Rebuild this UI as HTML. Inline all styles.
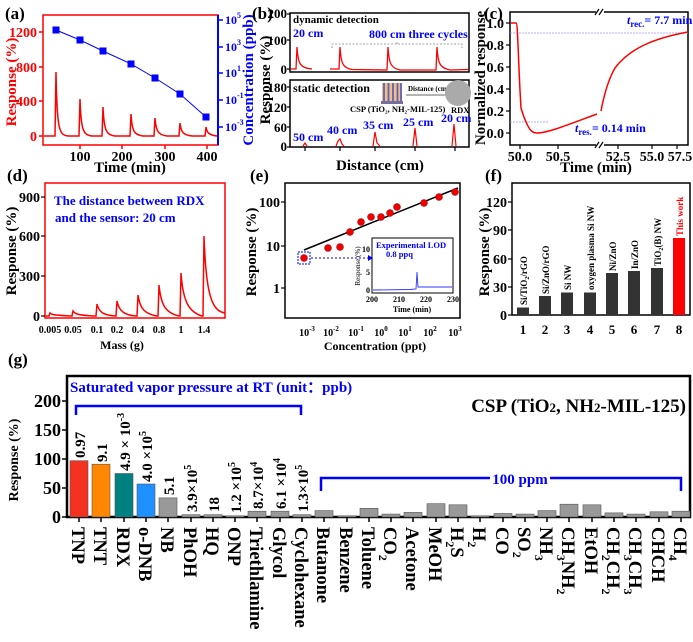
<!DOCTYPE html>
<html><head><meta charset="utf-8"><style>
body{margin:0;background:#fff}
svg{display:block;font-family:"Liberation Serif",serif;font-weight:bold}
</style></head><body>
<svg width="693" height="642" viewBox="0 0 693 642" xmlns="http://www.w3.org/2000/svg">
<!-- ===== (a) ===== -->
<text x="5" y="19" font-size="17">(a)</text>
<rect x="43" y="15" width="175" height="130" fill="none" stroke="#f00" stroke-width="1.5"/>
<line x1="218" y1="15" x2="218" y2="145" stroke="#00f" stroke-width="2"/>
<g stroke="#f00" stroke-width="1.5">
<line x1="39" y1="136" x2="43" y2="136"/><line x1="39" y1="101" x2="43" y2="101"/><line x1="39" y1="67" x2="43" y2="67"/><line x1="39" y1="32" x2="43" y2="32"/>
<line x1="80" y1="145" x2="80" y2="149"/><line x1="122" y1="145" x2="122" y2="149"/><line x1="165" y1="145" x2="165" y2="149"/><line x1="207" y1="145" x2="207" y2="149"/>
</g>
<g fill="#f00" font-size="14" text-anchor="end"><text x="37" y="141">0</text><text x="37" y="106">400</text><text x="37" y="72">800</text><text x="37" y="37">1200</text></g>
<g font-size="14" text-anchor="middle"><text x="80" y="161">100</text><text x="122" y="161">200</text><text x="165" y="161">300</text><text x="207" y="161">400</text></g>
<text x="130" y="172" font-size="15" text-anchor="middle">Time (min)</text>
<text transform="translate(16,82) rotate(-90)" font-size="15" fill="#f00" text-anchor="middle">Response (%)</text>
<g stroke="#00f" stroke-width="1.5"><line x1="218" y1="20" x2="223" y2="20"/><line x1="218" y1="47" x2="223" y2="47"/><line x1="218" y1="73" x2="223" y2="73"/><line x1="218" y1="100" x2="223" y2="100"/><line x1="218" y1="127" x2="223" y2="127"/></g>
<g fill="#00f" font-size="12"><text x="225" y="24">10<tspan font-size="8" dy="-6">5</tspan></text><text x="225" y="51">10<tspan font-size="8" dy="-6">3</tspan></text><text x="225" y="77">10<tspan font-size="8" dy="-6">1</tspan></text><text x="225" y="104">10<tspan font-size="8" dy="-6">-1</tspan></text><text x="225" y="131">10<tspan font-size="8" dy="-6">-3</tspan></text></g>
<text transform="translate(253,80) rotate(-90)" font-size="15" fill="#00f" text-anchor="middle">Concentration (ppb)</text>
<path d="M44 136 L55 136 L56 72 C57 130 59 135 68 136 L79 136 L80 99 C81 130 83 135 92 136 L102 136 L103 107 C104 130 106 135 115 136 L130 136 L131 114 C132 131 134 135 143 136 L154 136 L155 118 C156 131 158 135 167 136 L179 136 L180 123 C181 132 183 135 192 136 L205 136 L206 127 C207 133 209 135 217 136" fill="none" stroke="#f00" stroke-width="1.5"/>
<polyline points="56,30 80,40 103,51 131,64 155,78 180,94 206,117" fill="none" stroke="#00f" stroke-width="1"/>
<g fill="#00f"><rect x="52.5" y="26.5" width="7" height="7"/><rect x="76.5" y="36.5" width="7" height="7"/><rect x="99.5" y="47.5" width="7" height="7"/><rect x="127.5" y="60.5" width="7" height="7"/><rect x="151.5" y="74.5" width="7" height="7"/><rect x="176.5" y="90.5" width="7" height="7"/><rect x="202.5" y="113.5" width="7" height="7"/></g>

<!-- ===== (b) ===== -->
<text x="252" y="19" font-size="17">(b)</text>
<rect x="290" y="13" width="179" height="59" fill="none" stroke="#000" stroke-width="1.5"/>
<rect x="290" y="80" width="179" height="67" fill="none" stroke="#000" stroke-width="1.5"/>
<g font-size="13" text-anchor="end"><text x="287" y="18">200</text><text x="287" y="45">100</text><text x="287" y="74">0</text><text x="287" y="92">180</text><text x="287" y="112">120</text><text x="287" y="132">60</text><text x="287" y="151">0</text></g>
<g stroke="#000" stroke-width="1.2"><line x1="287" y1="14" x2="290" y2="14"/><line x1="287" y1="40" x2="290" y2="40"/><line x1="287" y1="69" x2="290" y2="69"/><line x1="287" y1="87" x2="290" y2="87"/><line x1="287" y1="107" x2="290" y2="107"/><line x1="287" y1="127" x2="290" y2="127"/><line x1="287" y1="147" x2="290" y2="147"/>
<line x1="305" y1="147" x2="305" y2="151"/><line x1="340" y1="147" x2="340" y2="151"/><line x1="375" y1="147" x2="375" y2="151"/><line x1="415" y1="147" x2="415" y2="151"/><line x1="455" y1="147" x2="455" y2="151"/></g>
<text transform="translate(270,80) rotate(-90)" font-size="15" text-anchor="middle">Response (%)</text>
<text x="380" y="170" font-size="15" text-anchor="middle">Distance (cm)</text>
<text x="293" y="23" font-size="11">dynamic detection</text>
<text x="293" y="37" font-size="12" fill="#00f">20 cm</text>
<text x="369" y="38" font-size="12" fill="#00f">800 cm three cycles</text>
<path d="M332 48 L332 44 L462 44 L462 48 M397 44 L397 41" fill="none" stroke="#888" stroke-width="0.8" stroke-dasharray="2,1.5"/>
<path d="M291 69 L296 69 L297 47 C298 64 300 68 312 69 M330 69 L339 69 L340 47 C341 64 343 68 352 69.5 L387 70 L388 47 C389 64 391 68 400 70 L436 70 L437 47 C438 64 440 68 450 70 L468 69.5" fill="none" stroke="#f00" stroke-width="1.3"/>
<text x="293" y="92" font-size="12">static detection</text>
<rect x="382" y="83" width="20" height="18" fill="#f0c080"/>
<g stroke="#6060c0" stroke-width="1.8"><line x1="384" y1="83" x2="384" y2="101"/><line x1="388.5" y1="83" x2="388.5" y2="101"/><line x1="393" y1="83" x2="393" y2="101"/><line x1="397.5" y1="83" x2="397.5" y2="101"/><line x1="401" y1="83" x2="401" y2="101"/></g>
<rect x="381" y="101" width="22" height="3" fill="#7070a0"/>
<text x="408" y="91" font-size="7">Distance (cm)</text>
<line x1="406" y1="95" x2="446" y2="95" stroke="#666" stroke-width="1"/>
<circle cx="458" cy="93" r="13" fill="#aaa"/>
<text x="350" y="112" font-size="8.5">CSP (TiO₂, NH₂-MIL-125)</text>
<text x="451" y="113" font-size="8.5">RDX</text>
<g fill="#00f" font-size="12"><text x="293" y="141">50 cm</text><text x="327" y="134">40 cm</text><text x="363" y="129">35 cm</text><text x="403" y="126">25 cm</text><text x="441" y="122">20 cm</text></g>
<path d="M303 146 L305 143 L307 146 M336 146 L338 141 L340 139 L342 144 L344 146 M373 146 L375 132 L377 143 L380 146 M413 146 L415 128 L417 146 M452 146 L454 124 L456 146" fill="none" stroke="#f00" stroke-width="1.2"/>

<!-- ===== (c) ===== -->
<text x="484" y="19" font-size="17">(c)</text>
<rect x="510" y="12" width="178" height="133" fill="none" stroke="#000" stroke-width="1.5"/>
<rect x="596" y="8" width="8" height="8" fill="#fff"/><rect x="596" y="141" width="8" height="8" fill="#fff"/>
<g stroke="#000" stroke-width="1.2"><line x1="595" y1="15" x2="599" y2="9"/><line x1="599" y1="15" x2="603" y2="9"/><line x1="595" y1="148" x2="599" y2="142"/><line x1="599" y1="148" x2="603" y2="142"/>
<line x1="506" y1="23" x2="510" y2="23"/><line x1="506" y1="45" x2="510" y2="45"/><line x1="506" y1="67" x2="510" y2="67"/><line x1="506" y1="89" x2="510" y2="89"/><line x1="506" y1="111" x2="510" y2="111"/><line x1="506" y1="133" x2="510" y2="133"/>
<line x1="520" y1="145" x2="520" y2="149"/><line x1="558" y1="145" x2="558" y2="149"/><line x1="618" y1="145" x2="618" y2="149"/><line x1="652" y1="145" x2="652" y2="149"/><line x1="677" y1="145" x2="677" y2="149"/></g>
<g font-size="14" text-anchor="end"><text x="504" y="28">1.0</text><text x="504" y="50">0.8</text><text x="504" y="72">0.6</text><text x="504" y="94">0.4</text><text x="504" y="116">0.2</text><text x="504" y="138">0.0</text></g>
<g font-size="14" text-anchor="middle"><text x="520" y="161">50.0</text><text x="558" y="161">50.5</text><text x="618" y="161">52.5</text><text x="652" y="161">55.0</text><text x="680" y="161">57.5</text></g>
<text x="596" y="172" font-size="15" text-anchor="middle">Time (min)</text>
<text transform="translate(485,78) rotate(-90)" font-size="15" text-anchor="middle">Normalized response</text>
<line x1="510" y1="33" x2="688" y2="33" stroke="#99f" stroke-width="0.8" stroke-dasharray="2,1"/>
<line x1="510" y1="122" x2="548" y2="122" stroke="#99f" stroke-width="0.8" stroke-dasharray="2,1"/>
<path d="M511 23 L516 23 C518 23 518 60 521 108 C523 115 524 118 527 124 C530 131 533 133 537 133 C548 133 570 124 597 114" fill="none" stroke="#f00" stroke-width="1.5"/>
<path d="M601 111 C604 95 608 80 615 68 C630 48 655 38 688 32" fill="none" stroke="#f00" stroke-width="1.5"/>
<text x="627" y="24" font-size="12" fill="#00f"><tspan font-style="italic">t</tspan><tspan font-size="9" dy="3">rec.</tspan><tspan dy="-3">= 7.7 min</tspan></text>
<text x="575" y="132" font-size="12" fill="#00f"><tspan font-style="italic">t</tspan><tspan font-size="9" dy="3">res.</tspan><tspan dy="-3">= 0.14 min</tspan></text>

<!-- ===== (d) ===== -->
<text x="7" y="181" font-size="17">(d)</text>
<rect x="45" y="183" width="180" height="135" fill="none" stroke="#f00" stroke-width="1.5"/>
<g stroke="#000" stroke-width="1.2"><line x1="41" y1="197" x2="45" y2="197"/><line x1="41" y1="236" x2="45" y2="236"/><line x1="41" y1="276" x2="45" y2="276"/><line x1="41" y1="316" x2="45" y2="316"/></g>
<g font-size="14" text-anchor="end"><text x="40" y="202">900</text><text x="40" y="241">600</text><text x="40" y="281">300</text><text x="40" y="321">0</text></g>
<text transform="translate(16,251) rotate(-90)" font-size="15" text-anchor="middle">Response (%)</text>
<g font-size="10" text-anchor="middle"><text x="50" y="333">0.005</text><text x="73" y="333">0.05</text><text x="97" y="333">0.1</text><text x="117" y="333">0.2</text><text x="138" y="333">0.4</text><text x="159" y="333">0.8</text><text x="181" y="333">1</text><text x="204" y="333">1.4</text></g>
<text x="122" y="349" font-size="12" text-anchor="middle">Mass (g)</text>
<text x="54" y="205" font-size="13" fill="#00f">The distance between RDX</text>
<text x="55" y="222" font-size="13" fill="#00f">and the sensor: 20 cm</text>
<path d="M46 316 L49 316 L50 313 C52 315 55 315 70 316 L72 316 L73 311 C75 314 78 315 93 316 L96 316 L97 304 C99 312 103 315 115 316 L116 316 L117 301 C119 311 124 315 136 316 L137 316 L138 295 C140 309 145 314 157 316 L158 316 L159 285 C161 306 166 313 179 316 L180 316 L181 273 C183 302 189 312 202 316 L203 316 L204 236 C206 296 212 311 225 313" fill="none" stroke="#f00" stroke-width="1.5"/>

<!-- ===== (e) ===== -->
<text x="250" y="181" font-size="17">(e)</text>
<rect x="285" y="183" width="175" height="135" fill="none" stroke="#000" stroke-width="1.5"/>
<g stroke="#000" stroke-width="1.2"><line x1="281" y1="202" x2="285" y2="202"/><line x1="281" y1="246" x2="285" y2="246"/><line x1="281" y1="288" x2="285" y2="288"/></g>
<g font-size="14" text-anchor="end"><text x="280" y="207">100</text><text x="280" y="251">10</text><text x="280" y="293">1</text></g>
<text transform="translate(256,252) rotate(-90)" font-size="15" text-anchor="middle">Response (%)</text>
<g font-size="10" text-anchor="middle"><text x="307" y="336">10<tspan font-size="7" dy="-5">-3</tspan></text><text x="331" y="336">10<tspan font-size="7" dy="-5">-2</tspan></text><text x="356" y="336">10<tspan font-size="7" dy="-5">-1</tspan></text><text x="381" y="336">10<tspan font-size="7" dy="-5">0</tspan></text><text x="405" y="336">10<tspan font-size="7" dy="-5">1</tspan></text><text x="430" y="336">10<tspan font-size="7" dy="-5">2</tspan></text><text x="455" y="336">10<tspan font-size="7" dy="-5">3</tspan></text></g>
<text x="375" y="350" font-size="12" text-anchor="middle">Concentration (ppt)</text>
<line x1="304" y1="250" x2="458" y2="188" stroke="#000" stroke-width="1.5"/>
<rect x="298" y="252" width="12" height="12" fill="none" stroke="#00f" stroke-width="1" stroke-dasharray="2,1"/>
<line x1="311" y1="258" x2="368" y2="258" stroke="#00f" stroke-width="1" stroke-dasharray="2,2"/>
<path d="M368 255 L373 258 L368 261 Z" fill="#00f"/>
<g fill="#e00" stroke="#900" stroke-width="0.5"><circle cx="304" cy="258" r="3.5"/><circle cx="328" cy="248" r="3.5"/><circle cx="340" cy="247" r="3.5"/><circle cx="350" cy="232" r="3.5"/><circle cx="361" cy="222" r="3.5"/><circle cx="371" cy="217" r="3.5"/><circle cx="381" cy="217" r="3.5"/><circle cx="390" cy="213" r="3.5"/><circle cx="397" cy="207" r="3.5"/><circle cx="424" cy="203" r="3.5"/><circle cx="439" cy="197" r="3.5"/><circle cx="455" cy="192" r="3.5"/></g>
<rect x="372" y="238" width="81" height="55" fill="#fff" stroke="#000" stroke-width="1"/>
<g font-size="8" text-anchor="end"><text x="370" y="252">10</text><text x="370" y="275">5</text><text x="370" y="293">0</text></g>
<g font-size="8" text-anchor="middle"><text x="372" y="302">200</text><text x="399" y="302">210</text><text x="426" y="302">220</text><text x="453" y="302">230</text></g>
<text x="412" y="312" font-size="8" text-anchor="middle">Time (min)</text>
<text transform="translate(360,266) rotate(-90)" font-size="7" font-weight="normal" text-anchor="middle">Response (%)</text>
<text x="376" y="248" font-size="8.5" fill="#00f">Experimental LOD</text>
<text x="386" y="257" font-size="8.5" fill="#00f">0.8 ppq</text>
<path d="M373 290 L410 289.5 L416 289 L417 272 L418 287 L425 287 L452 287" fill="none" stroke="#33f" stroke-width="0.9"/>

<!-- ===== (f) ===== -->
<text x="485" y="181" font-size="17">(f)</text>
<rect x="512" y="183" width="178" height="132" fill="none" stroke="#000" stroke-width="1.5"/>
<g stroke="#000" stroke-width="1.2"><line x1="508" y1="202" x2="512" y2="202"/><line x1="508" y1="230" x2="512" y2="230"/><line x1="508" y1="259" x2="512" y2="259"/><line x1="508" y1="287" x2="512" y2="287"/><line x1="508" y1="315" x2="512" y2="315"/></g>
<g font-size="14" text-anchor="end"><text x="507" y="207">120</text><text x="507" y="235">90</text><text x="507" y="264">60</text><text x="507" y="292">30</text><text x="507" y="320">0</text></g>
<text transform="translate(489,252) rotate(-90)" font-size="15" text-anchor="middle">Response (%)</text>
<g font-size="13" text-anchor="middle"><text x="523" y="334">1</text><text x="545" y="334">2</text><text x="567" y="334">3</text><text x="590" y="334">4</text><text x="612" y="334">5</text><text x="634" y="334">6</text><text x="657" y="334">7</text><text x="679" y="334">8</text></g>
<g fill="#333"><rect x="517" y="307.5" width="12" height="7.5"/><rect x="539" y="296" width="12" height="19"/><rect x="561" y="292.5" width="12" height="22.5"/><rect x="584" y="292.5" width="12" height="22.5"/><rect x="606" y="273" width="12" height="42"/><rect x="628" y="271" width="12" height="44"/><rect x="651" y="268" width="12" height="47"/></g>
<rect x="673" y="238" width="12" height="77" fill="#f00"/>
<g font-size="9"><text transform="translate(527,305) rotate(-90)">Si/TiO<tspan font-size="6" dy="2">2</tspan><tspan dy="-2">/rGO</tspan></text>
<text transform="translate(549,294) rotate(-90)">Si/ZnO/rGO</text>
<text transform="translate(571,290) rotate(-90)">Si NW</text>
<text transform="translate(594,290) rotate(-90)">oxygen plasma Si NW</text>
<text transform="translate(616,271) rotate(-90)">Ni/ZnO</text>
<text transform="translate(638,269) rotate(-90)">In/ZnO</text>
<text transform="translate(661,266) rotate(-90)">TiO<tspan font-size="6" dy="2">2</tspan><tspan dy="-2">(B) NW</tspan></text>
<text transform="translate(683,236) rotate(-90)" fill="#f00">This work</text></g>

<!-- ===== (g) ===== -->
<text x="8" y="365" font-size="17">(g)</text>
<rect x="67" y="376" width="623" height="141" fill="none" stroke="#000" stroke-width="2.5"/>
<g stroke="#000" stroke-width="1.5"><line x1="62" y1="401" x2="67" y2="401"/><line x1="62" y1="430" x2="67" y2="430"/><line x1="62" y1="459" x2="67" y2="459"/><line x1="62" y1="488" x2="67" y2="488"/><line x1="62" y1="517" x2="67" y2="517"/></g>
<g font-size="18" text-anchor="end"><text x="61" y="407">200</text><text x="61" y="436">150</text><text x="61" y="465">100</text><text x="61" y="494">50</text><text x="61" y="523">0</text></g>
<text transform="translate(18,460) rotate(-90)" font-size="14" text-anchor="middle">Response (%)</text>
<text x="70" y="392" font-size="15" fill="#00f">Saturated vapor pressure at RT (unit：ppb)</text>
<path d="M76 415 L76 406 L301 406 L301 415" fill="none" stroke="#00f" stroke-width="2.5"/>
<text x="686" y="412" font-size="19" text-anchor="end">CSP (TiO<tspan font-size="13">2</tspan>, NH<tspan font-size="13">2</tspan>-MIL-125)</text>
<path d="M321 491 L321 478 L681 478 L681 491" fill="none" stroke="#00f" stroke-width="2.5"/>
<rect x="490" y="470" width="60" height="16" fill="#fff"/>
<text x="520" y="484" font-size="15" fill="#00f" text-anchor="middle">100 ppm</text>
<g stroke="#555" stroke-width="0.6">
<rect x="70" y="460.7" width="18" height="56.3" fill="#f43220"/>
<rect x="92" y="464.2" width="18" height="52.8" fill="#ff8800"/>
<rect x="115" y="473.5" width="18" height="43.5" fill="#008080"/>
<rect x="137" y="484" width="18" height="33" fill="#1e90ff"/>
<g fill="#999">
<rect x="159" y="497.9" width="18" height="19.1"/><rect x="182" y="514.7" width="18" height="2.3"/><rect x="204" y="514.7" width="18" height="2.3"/><rect x="226" y="515.8" width="18" height="1.2"/><rect x="248" y="511.2" width="18" height="5.8"/><rect x="271" y="511.2" width="18" height="5.8"/><rect x="293" y="514.7" width="18" height="2.3"/><rect x="315" y="510.6" width="18" height="6.4"/><rect x="338" y="515.8" width="18" height="1.2"/><rect x="360" y="508.3" width="18" height="8.7"/><rect x="382" y="514.1" width="18" height="2.9"/><rect x="404" y="512.4" width="18" height="4.6"/><rect x="427" y="503.7" width="18" height="13.3"/><rect x="449" y="504.8" width="18" height="12.2"/><rect x="471" y="515.8" width="18" height="1.2"/><rect x="494" y="513.5" width="18" height="3.5"/><rect x="516" y="514.1" width="18" height="2.9"/><rect x="538" y="510.6" width="18" height="6.4"/><rect x="560" y="504.2" width="18" height="12.8"/><rect x="583" y="504.8" width="18" height="12.2"/><rect x="605" y="512.9" width="18" height="4.1"/><rect x="627" y="514.1" width="18" height="2.9"/><rect x="650" y="511.8" width="18" height="5.2"/><rect x="672" y="511.2" width="18" height="5.8"/></g></g>
<g stroke="#000" stroke-width="1.5"><path d="M79 517v5M101 517v5M124 517v5M146 517v5M168 517v5M191 517v5M213 517v5M235 517v5M257 517v5M280 517v5M302 517v5M324 517v5M347 517v5M369 517v5M391 517v5M413 517v5M436 517v5M458 517v5M480 517v5M503 517v5M525 517v5M547 517v5M569 517v5M592 517v5M614 517v5M636 517v5M659 517v5M681 517v5"/></g>
<g font-size="15">
<text transform="translate(85,458) rotate(-90)">0.97</text>
<text transform="translate(107,462) rotate(-90)">9.1</text>
<text transform="translate(130,471) rotate(-90)">4.9 × 10<tspan font-size="10" dy="-6">-3</tspan></text>
<text transform="translate(152,482) rotate(-90)">4.0 ×10<tspan font-size="10" dy="-6">5</tspan></text>
<text transform="translate(174,495) rotate(-90)">5.1</text>
<text transform="translate(197,512) rotate(-90)">3.9×10<tspan font-size="10" dy="-6">5</tspan></text>
<text transform="translate(219,512) rotate(-90)">18</text>
<text transform="translate(241,513) rotate(-90)">1.2 ×10<tspan font-size="10" dy="-6">5</tspan></text>
<text transform="translate(263,509) rotate(-90)">8.7×10<tspan font-size="10" dy="-6">4</tspan></text>
<text transform="translate(286,509) rotate(-90)">6.1 ×10<tspan font-size="10" dy="-6">4</tspan></text>
<text transform="translate(308,512) rotate(-90)">1.3×10<tspan font-size="10" dy="-6">5</tspan></text>
</g>
<g font-size="18.5">
<text transform="translate(72,527) rotate(90)">TNP</text>
<text transform="translate(94,527) rotate(90)">TNT</text>
<text transform="translate(117,527) rotate(90)">RDX</text>
<text transform="translate(139,527) rotate(90)">o-DNB</text>
<text transform="translate(161,527) rotate(90)">NB</text>
<text transform="translate(184,527) rotate(90)">PhOH</text>
<text transform="translate(206,527) rotate(90)">HQ</text>
<text transform="translate(228,527) rotate(90)">ONP</text>
<text transform="translate(250,527) rotate(90)">Triethlamine</text>
<text transform="translate(273,527) rotate(90)">Glycol</text>
<text transform="translate(295,527) rotate(90)">Cyclohexane</text>
<text transform="translate(317,527) rotate(90)">Butanone</text>
<text transform="translate(340,527) rotate(90)">Benzene</text>
<text transform="translate(362,527) rotate(90)">Toluene</text>
<text transform="translate(384,527) rotate(90)">CO<tspan font-size="12" dy="5">2</tspan></text>
<text transform="translate(406,527) rotate(90)">Acetone</text>
<text transform="translate(429,527) rotate(90)">MeOH</text>
<text transform="translate(451,527) rotate(90)">H<tspan font-size="12" dy="5">2</tspan><tspan dy="-5">S</tspan></text>
<text transform="translate(473,527) rotate(90)">H<tspan font-size="12" dy="5">2</tspan></text>
<text transform="translate(496,527) rotate(90)">CO</text>
<text transform="translate(518,527) rotate(90)">SO<tspan font-size="12" dy="5">2</tspan></text>
<text transform="translate(540,527) rotate(90)">NH<tspan font-size="12" dy="5">3</tspan></text>
<text transform="translate(562,527) rotate(90)">CH<tspan font-size="12" dy="5">3</tspan><tspan dy="-5">NH</tspan><tspan font-size="12" dy="5">2</tspan></text>
<text transform="translate(585,527) rotate(90)">EtOH</text>
<text transform="translate(607,527) rotate(90)">CH<tspan font-size="12" dy="5">2</tspan><tspan dy="-5">CH</tspan><tspan font-size="12" dy="5">2</tspan></text>
<text transform="translate(629,527) rotate(90)">CH<tspan font-size="12" dy="5">3</tspan><tspan dy="-5">CH</tspan><tspan font-size="12" dy="5">3</tspan></text>
<text transform="translate(652,527) rotate(90)">CHCH</text>
<text transform="translate(674,527) rotate(90)">CH<tspan font-size="12" dy="5">4</tspan></text>
</g>
</svg>
</body></html>
